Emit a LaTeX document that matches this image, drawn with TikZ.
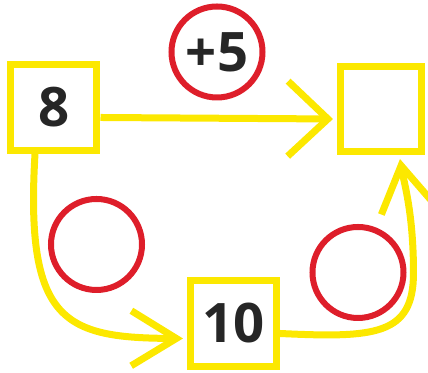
\documentclass[tikz,border=0pt]{standalone}
\usepackage{fontspec}
\setmainfont{Open Sans}
\usetikzlibrary{arrows.meta}

\definecolor{boxyellow}{RGB}{252,232,0}
\definecolor{ringred}{RGB}{222,30,42}
\definecolor{numgray}{RGB}{38,38,38}

\tikzset{
  numbox/.style={draw=boxyellow, line width=0.14cm, minimum size=1.72cm, inner sep=0pt,
    text=numgray, font=\fontsize{31}{31}\selectfont\bfseries},
  ring/.style={draw=ringred, circle, line width=0.12cm, minimum size=1.82cm, inner sep=0pt,
    text=numgray, font=\fontsize{31}{31}\selectfont\bfseries},
  hop/.style={draw=boxyellow, line width=0.14cm,
    -{Straight Barb[length=0.8cm, width=1.5cm]}},
  curvehop/.style={draw=boxyellow, line width=0.14cm,
    -{Straight Barb[length=0.9cm, width=1.1cm]}}
}

\begin{document}
\begin{tikzpicture}
            \useasboundingbox (0,0) rectangle (8.56,7.46);

            \node[numbox] (b8) at (1.08,5.31) {8};
            \node[numbox, minimum width=1.62cm, minimum height=1.7cm] (bq) at (7.62,5.28) {};
            \node[numbox] (b10) at (4.67,0.99) {10};

            \node[ring] (c5) at (4.34,6.42) {+5};
            \node[ring] (cl) at (1.93,2.57) {};
            \node[ring] (cr) at (7.16,2.01) {};

            \draw[hop] ([yshift=-0.2cm]b8.east) -- ([yshift=-0.2cm,xshift=-0.08cm]bq.west);
            \draw[curvehop] ([xshift=-0.38cm]b8.south) .. controls (0.5,1.0) and (1.3,0.7) .. ([yshift=-0.3cm,xshift=-0.08cm]b10.west);
            \draw[curvehop] ([yshift=-0.2cm]b10.east) .. controls (7.5,0.7) and (8.27,0.75) .. (8.27,2.0)
              .. controls (8.27,3.2) and (8.08,3.8) .. ([xshift=0.38cm,yshift=-0.08cm]bq.south);
        \end{tikzpicture}
\end{document}
